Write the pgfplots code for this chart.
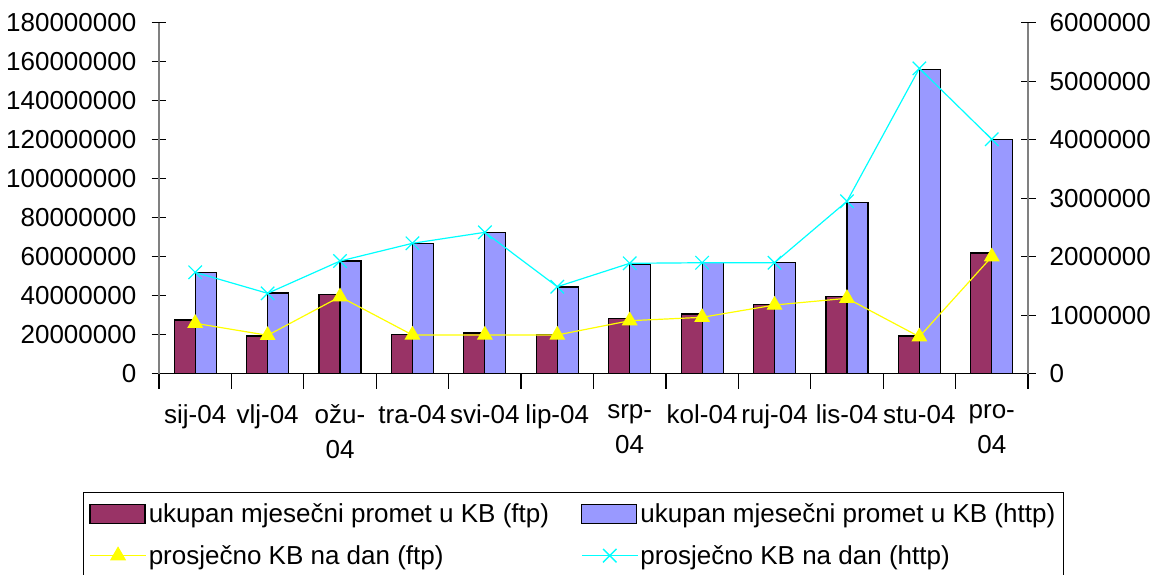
\documentclass[border=0pt]{standalone}
\usepackage{fontspec}
\setmainfont{Liberation Sans}
\usepackage{pgfplots}
\pgfplotsset{compat=1.18}

\definecolor{ftpbar}{HTML}{993366}
\definecolor{httpbar}{HTML}{9999FF}
\definecolor{ftpline}{HTML}{FFFF00}
\definecolor{httpline}{HTML}{00FFFF}

\newcommand{\chartfont}{\fontsize{26}{35}\selectfont}

\pgfplotsset{
  common/.style={
    width=869pt, height=351pt, scale only axis,
    xmin=0, xmax=12,
    font=\chartfont,
    tick align=center, major tick length=15pt,
    tick style={black, line width=1.2pt},
    /pgf/number format/assume math mode=true,
    scaled y ticks=false,
    yticklabel style={/pgf/number format/fixed, /pgf/number format/1000 sep={}, inner sep=0pt},
  },
  lineleg/.style={legend image code/.code={\draw[mark repeat=2, mark phase=2, ##1, line width=1.4pt] plot coordinates {(0pt,0pt) (28pt,0pt) (56pt,0pt)};}},
  barleg/.style={legend image code/.code={\draw[fill=#1,draw=black,line width=1.2pt] (0pt,-9pt) rectangle (55pt,10pt);}},
}

\begin{document}
\begin{tikzpicture}
% bars, left axis
\begin{axis}[common,
  ybar=0pt, bar width=21pt,
  axis x line*=bottom, axis y line*=left,
  x axis line style={black, line width=1.2pt},
  y axis line style={gray, line width=1.2pt},
  ymin=0, ymax=180000000, ytick distance=20000000,
  yticklabel style={xshift=-15pt},
  xtick={0,...,12},
  xticklabels={sij-04, vlj-04, {ožu-\\04}, tra-04, svi-04, lip-04, {srp-\\04}, kol-04, ruj-04, lis-04, stu-04, {pro-\\04}, {}},
  xticklabel style={align=center, xshift=36.2pt, yshift=-16pt, inner sep=0pt, anchor=north},
]
\addplot[fill=ftpbar, draw=black, line width=1.2pt] coordinates {
  (0.5,27500000) (1.5,19300000) (2.5,40500000) (3.5,20000000) (4.5,20900000) (5.5,20000000)
  (6.5,28400000) (7.5,30600000) (8.5,35600000) (9.5,39700000) (10.5,19300000) (11.5,61900000)
};
\addplot[fill=httpbar, draw=black, line width=1.2pt] coordinates {
  (0.5,52000000) (1.5,41400000) (2.5,57800000) (3.5,66900000) (4.5,72500000) (5.5,44500000)
  (6.5,56000000) (7.5,57000000) (8.5,57000000) (9.5,88000000) (10.5,156100000) (11.5,120200000)
};
\end{axis}
% lines, right axis
\begin{axis}[common,
  axis x line=none, axis y line*=right,
  y axis line style={gray, line width=1.2pt},
  ymin=0, ymax=6000000, ytick distance=1000000,
  yticklabel style={xshift=14pt},
  clip=false,
  legend columns=2,
  legend cell align=left,
  legend style={at={(axis description cs:-0.0875,-0.336)}, anchor=north west,
    draw=black, line width=0.8pt, font=\chartfont,
    inner xsep=6pt, inner ysep=10pt, row sep=17pt,
    /tikz/every even column/.append style={column sep=30pt}},
]
\addlegendimage{barleg=ftpbar}
\addlegendentry{ukupan mjesečni promet u KB (ftp)}
\addlegendimage{barleg=httpbar}
\addlegendentry{ukupan mjesečni promet u KB (http)}
\addplot[ftpline, line width=1.2pt, mark=triangle*, mark size=8pt, lineleg]
  coordinates {
  (0.5,862000) (1.5,656000) (2.5,1316000) (3.5,662000) (4.5,662000) (5.5,662000)
  (6.5,906000) (7.5,964000) (8.5,1174000) (9.5,1289000) (10.5,632000) (11.5,2000000)
};
\addlegendentry{prosječno KB na dan (ftp)}
\addplot[httpline, line width=1.2pt, mark=x, mark size=9.5pt, lineleg]
  coordinates {
  (0.5,1733000) (1.5,1374000) (2.5,1926000) (3.5,2229000) (4.5,2417000) (5.5,1487000)
  (6.5,1887000) (7.5,1897000) (8.5,1897000) (9.5,2947000) (10.5,5220000) (11.5,4007000)
};
\addlegendentry{prosječno KB na dan (http)}
\end{axis}
\pgfresetboundingbox
\path[use as bounding box] (-159pt,-200.3pt) rectangle (992pt,373.7pt);
\end{tikzpicture}
\end{document}
